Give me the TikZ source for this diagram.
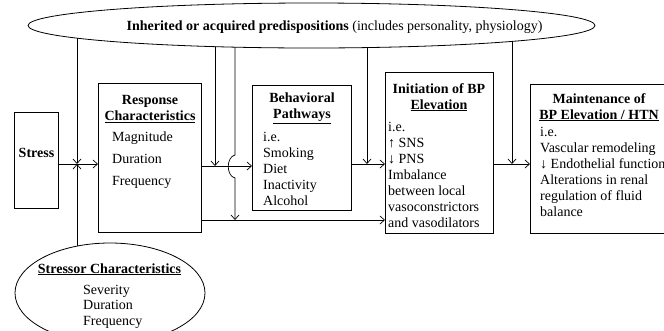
\documentclass[tikz,border=0pt]{standalone}
\usepackage{fontspec}
\setmainfont{Liberation Serif}
\usetikzlibrary{arrows.meta,shapes.geometric}
\pgfdeclarelayer{background}
\pgfsetlayers{background,main}
\begin{document}
\begin{tikzpicture}[x=1pt,y=-1pt,
  box/.style={draw,line width=0.8pt,inner sep=0pt,anchor=north west},
  oval/.style={draw,ellipse,line width=0.8pt,fill=white,inner sep=0pt},
  txt/.style={inner sep=0pt,font=\fontsize{14}{16}\selectfont},
  ttl/.style={txt,align=center,anchor=north,font=\fontsize{14}{16}\selectfont\bfseries},
  lst/.style={txt,align=left,anchor=north west},
  conn/.style={line width=0.7pt},
  arr/.style={conn,-{Straight Barb[length=4.5pt,width=8pt]}}]
\useasboundingbox (0,0) rectangle (664,330);
\clip (0,0) rectangle (664,330);

% boxes
\node[box,minimum width=44,minimum height=96] (stress) at (14,112) {};
\node[box,minimum width=103,minimum height=149] (resp) at (98,83) {};
\node[box,minimum width=99,minimum height=125] (beh) at (252,85) {};
\node[box,minimum width=108,minimum height=161] (init) at (385,72) {};
\node[box,minimum width=142,minimum height=149] (maint) at (530,84) {};

% ellipses
\node[oval,minimum width=567,minimum height=45] (pred) at (311.5,25.5) {};
\node[oval,minimum width=190,minimum height=100] (stressor) at (110,293) {};

% texts
\node[txt,anchor=base] (predT) at (334.5,30.5)
  {\textbf{Inherited or acquired predispositions} (includes personality, physiology)};
\node[txt,font=\fontsize{14}{16}\selectfont\bfseries] (stressT) at (36.5,153) {Stress};
\node[ttl] (respT) at (150,95) {Response\\\underline{Characteristics}};
\node[lst,font=\fontsize{14}{22}\selectfont] (respL) at (112,132) {Magnitude\\Duration\\Frequency};
\node[ttl] (behT) at (302,93) {Behavioral\\\underline{Pathways}};
\node[lst] (behL) at (263,132) {i.e.\\Smoking\\Diet\\Inactivity\\Alcohol};
\node[ttl] (initT) at (439,83) {Initiation of BP\\\underline{Elevation}};
\node[lst] (initL) at (388,122) {i.e.\\↑ SNS\\↓ PNS\\Imbalance\\between local\\vasoconstrictors\\and vasodilators};
\node[ttl] (maintT) at (599,93) {Maintenance of\\\underline{BP Elevation / HTN}};
\node[lst] (maintL) at (540,127) {i.e.\\Vascular remodeling\\↓ Endothelial function\\Alterations in renal\\regulation of fluid\\balance};
\node[txt,anchor=base,font=\fontsize{14}{16}\selectfont\bfseries] (stressorT) at (109.5,273) {\underline{Stressor Characteristics}};
\node[lst,font=\fontsize{14}{15.5}\selectfont] (stressorL) at (83,285) {Severity\\Duration\\Frequency};

% junction points
\coordinate (m1) at (77,164);
\coordinate (m2) at (215,166);
\coordinate (m3) at (235,220);
\coordinate (m4) at (367,164);
\coordinate (m5) at (512,164);

% horizontal connectors
\draw[arr] (stress.east |- m1) -- (resp.west |- m1);
\draw[arr] (resp.east |- m2) -- (beh.west |- m2);
\draw[arr] (resp.east |- m3) -- (init.west |- m3);
\draw[arr] (beh.east |- m4) -- (init.west |- m4);
\draw[arr] (init.east |- m5) -- (maint.west |- m5);

% vertical connectors (behind the ellipses)
\begin{pgfonlayer}{background}
\draw[arr] (pred.center -| m1) -- (m1);
\draw[arr] (stressor.center -| m1) -- (m1);
\draw[arr] (pred.center -| m2) -- (m2);
\draw[arr] (pred.center -| m3) -- ([yshift=65pt]m3)
  .. controls ([xshift=-9pt,yshift=63pt]m3) and ([xshift=-9pt,yshift=44pt]m3) .. ([yshift=42pt]m3)
  -- (m3);
\draw[arr] (pred.center -| m4) -- (m4);
\draw[arr] (pred.center -| m5) -- (m5);
\end{pgfonlayer}
\end{tikzpicture}
\end{document}
